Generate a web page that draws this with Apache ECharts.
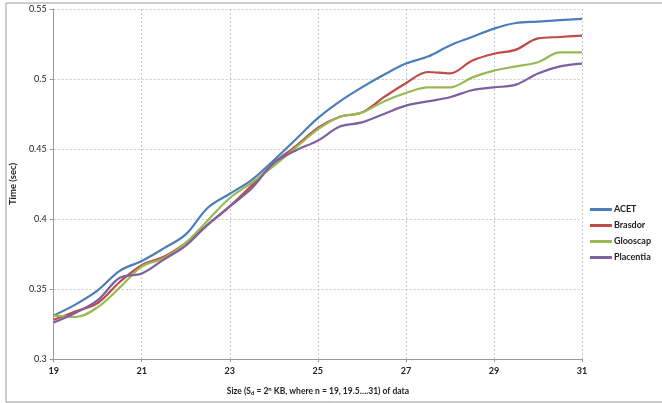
<!DOCTYPE html>
<html><head><meta charset="utf-8">
<script src="https://cdn.jsdelivr.net/npm/echarts@6/dist/echarts.min.js"></script>
<style>html,body{margin:0;padding:0;background:#fff}#c{width:662px;height:403px}</style>
</head><body><div id="c"></div>
<script>
var sizes = [19,19.5,20,20.5,21,21.5,22,22.5,23,23.5,24,24.5,25,25.5,26,26.5,27,27.5,28,28.5,29,29.5,30,30.5,31];
var acet      = [0.331,0.339,0.349,0.363,0.370,0.379,0.389,0.408,0.418,0.428,0.442,0.457,0.472,0.484,0.494,0.503,0.511,0.516,0.524,0.530,0.536,0.540,0.541,0.542,0.543];
var brasdor   = [0.328,0.334,0.340,0.355,0.367,0.373,0.383,0.396,0.409,0.424,0.440,0.452,0.465,0.473,0.476,0.487,0.497,0.505,0.504,0.513,0.518,0.521,0.529,0.530,0.531];
var glooscap  = [0.331,0.330,0.337,0.351,0.366,0.372,0.383,0.399,0.415,0.426,0.438,0.451,0.464,0.473,0.476,0.484,0.490,0.494,0.494,0.501,0.506,0.509,0.512,0.519,0.519];
var placentia = [0.326,0.333,0.342,0.358,0.361,0.371,0.381,0.396,0.409,0.422,0.440,0.449,0.456,0.466,0.469,0.475,0.481,0.484,0.487,0.492,0.494,0.496,0.504,0.509,0.511];
var seriesNames = ['ACET','Brasdor','Glooscap','Placentia'];
var seriesColors = ['#4A7EBB','#BE4B48','#98B954','#7D60A0'];
var allData = [acet, brasdor, glooscap, placentia];

function pairs(vals){ return sizes.map(function(s,i){ return [s, vals[i]]; }); }

var chart = echarts.init(document.getElementById('c'), null, {renderer:'canvas'});
var font = 'Lato, "DejaVu Sans", sans-serif';
chart.setOption({
  animation:false,
  backgroundColor:'#fff',
  graphic:[{type:'rect', shape:{x:6,y:3,width:670,height:399}, style:{fill:'none', stroke:'#9a9a9a', lineWidth:1}, silent:true, z:-1}],
  grid:{left:46, right:80, top:9, bottom:44},
  legend:{
    orient:'vertical', right:6, top:200, itemWidth:22, itemHeight:3, itemGap:7,
    icon:'rect',
    textStyle:{fontFamily:font, fontSize:9, fontWeight:'bold', color:'#222', padding:[0,0,0,-3]},
    data:seriesNames
  },
  xAxis:{
    type:'value', min:19, max:31, interval:2,
    axisLine:{lineStyle:{color:'#999'}},
    axisTick:{show:true, length:3, lineStyle:{color:'#999'}},
    axisLabel:{fontFamily:font, fontSize:9, fontWeight:'bold', color:'#222', margin:8},
    splitLine:{show:true, lineStyle:{color:'#c8c8c8', type:[2,2]}},
    name:'Size (S{sub|d} = 2{sup|n} KB, where n = 19, 19.5….31) of data',
    nameLocation:'middle', nameGap:27,
    nameTextStyle:{fontFamily:font, fontSize:8.5, fontWeight:'bold', color:'#222',
      rich:{sub:{fontSize:6, fontWeight:'bold', verticalAlign:'bottom', padding:[4,0,0,0]},
            sup:{fontSize:6, fontWeight:'bold', verticalAlign:'top', padding:[0,0,4,0]}}}
  },
  yAxis:{
    type:'value', min:0.3, max:0.55, interval:0.05,
    axisLine:{show:true, lineStyle:{color:'#999'}},
    axisTick:{show:true, length:4, lineStyle:{color:'#999'}},
    axisLabel:{fontFamily:font, fontSize:9, color:'#222', margin:7},
    splitLine:{show:true, lineStyle:{color:'#c8c8c8', type:[2,2]}},
    name:'Time (sec)', nameLocation:'middle', nameGap:27, nameRotate:90,
    nameTextStyle:{fontFamily:font, fontSize:9.5, fontWeight:'bold', color:'#222'}
  },
  series: allData.map(function(d,i){
    return {name:seriesNames[i], type:'line', smooth:0.35, showSymbol:false, symbol:'none',
      data:pairs(d), lineStyle:{width:2.2, color:seriesColors[i]}, itemStyle:{color:seriesColors[i]}};
  })
});
</script></body></html>
